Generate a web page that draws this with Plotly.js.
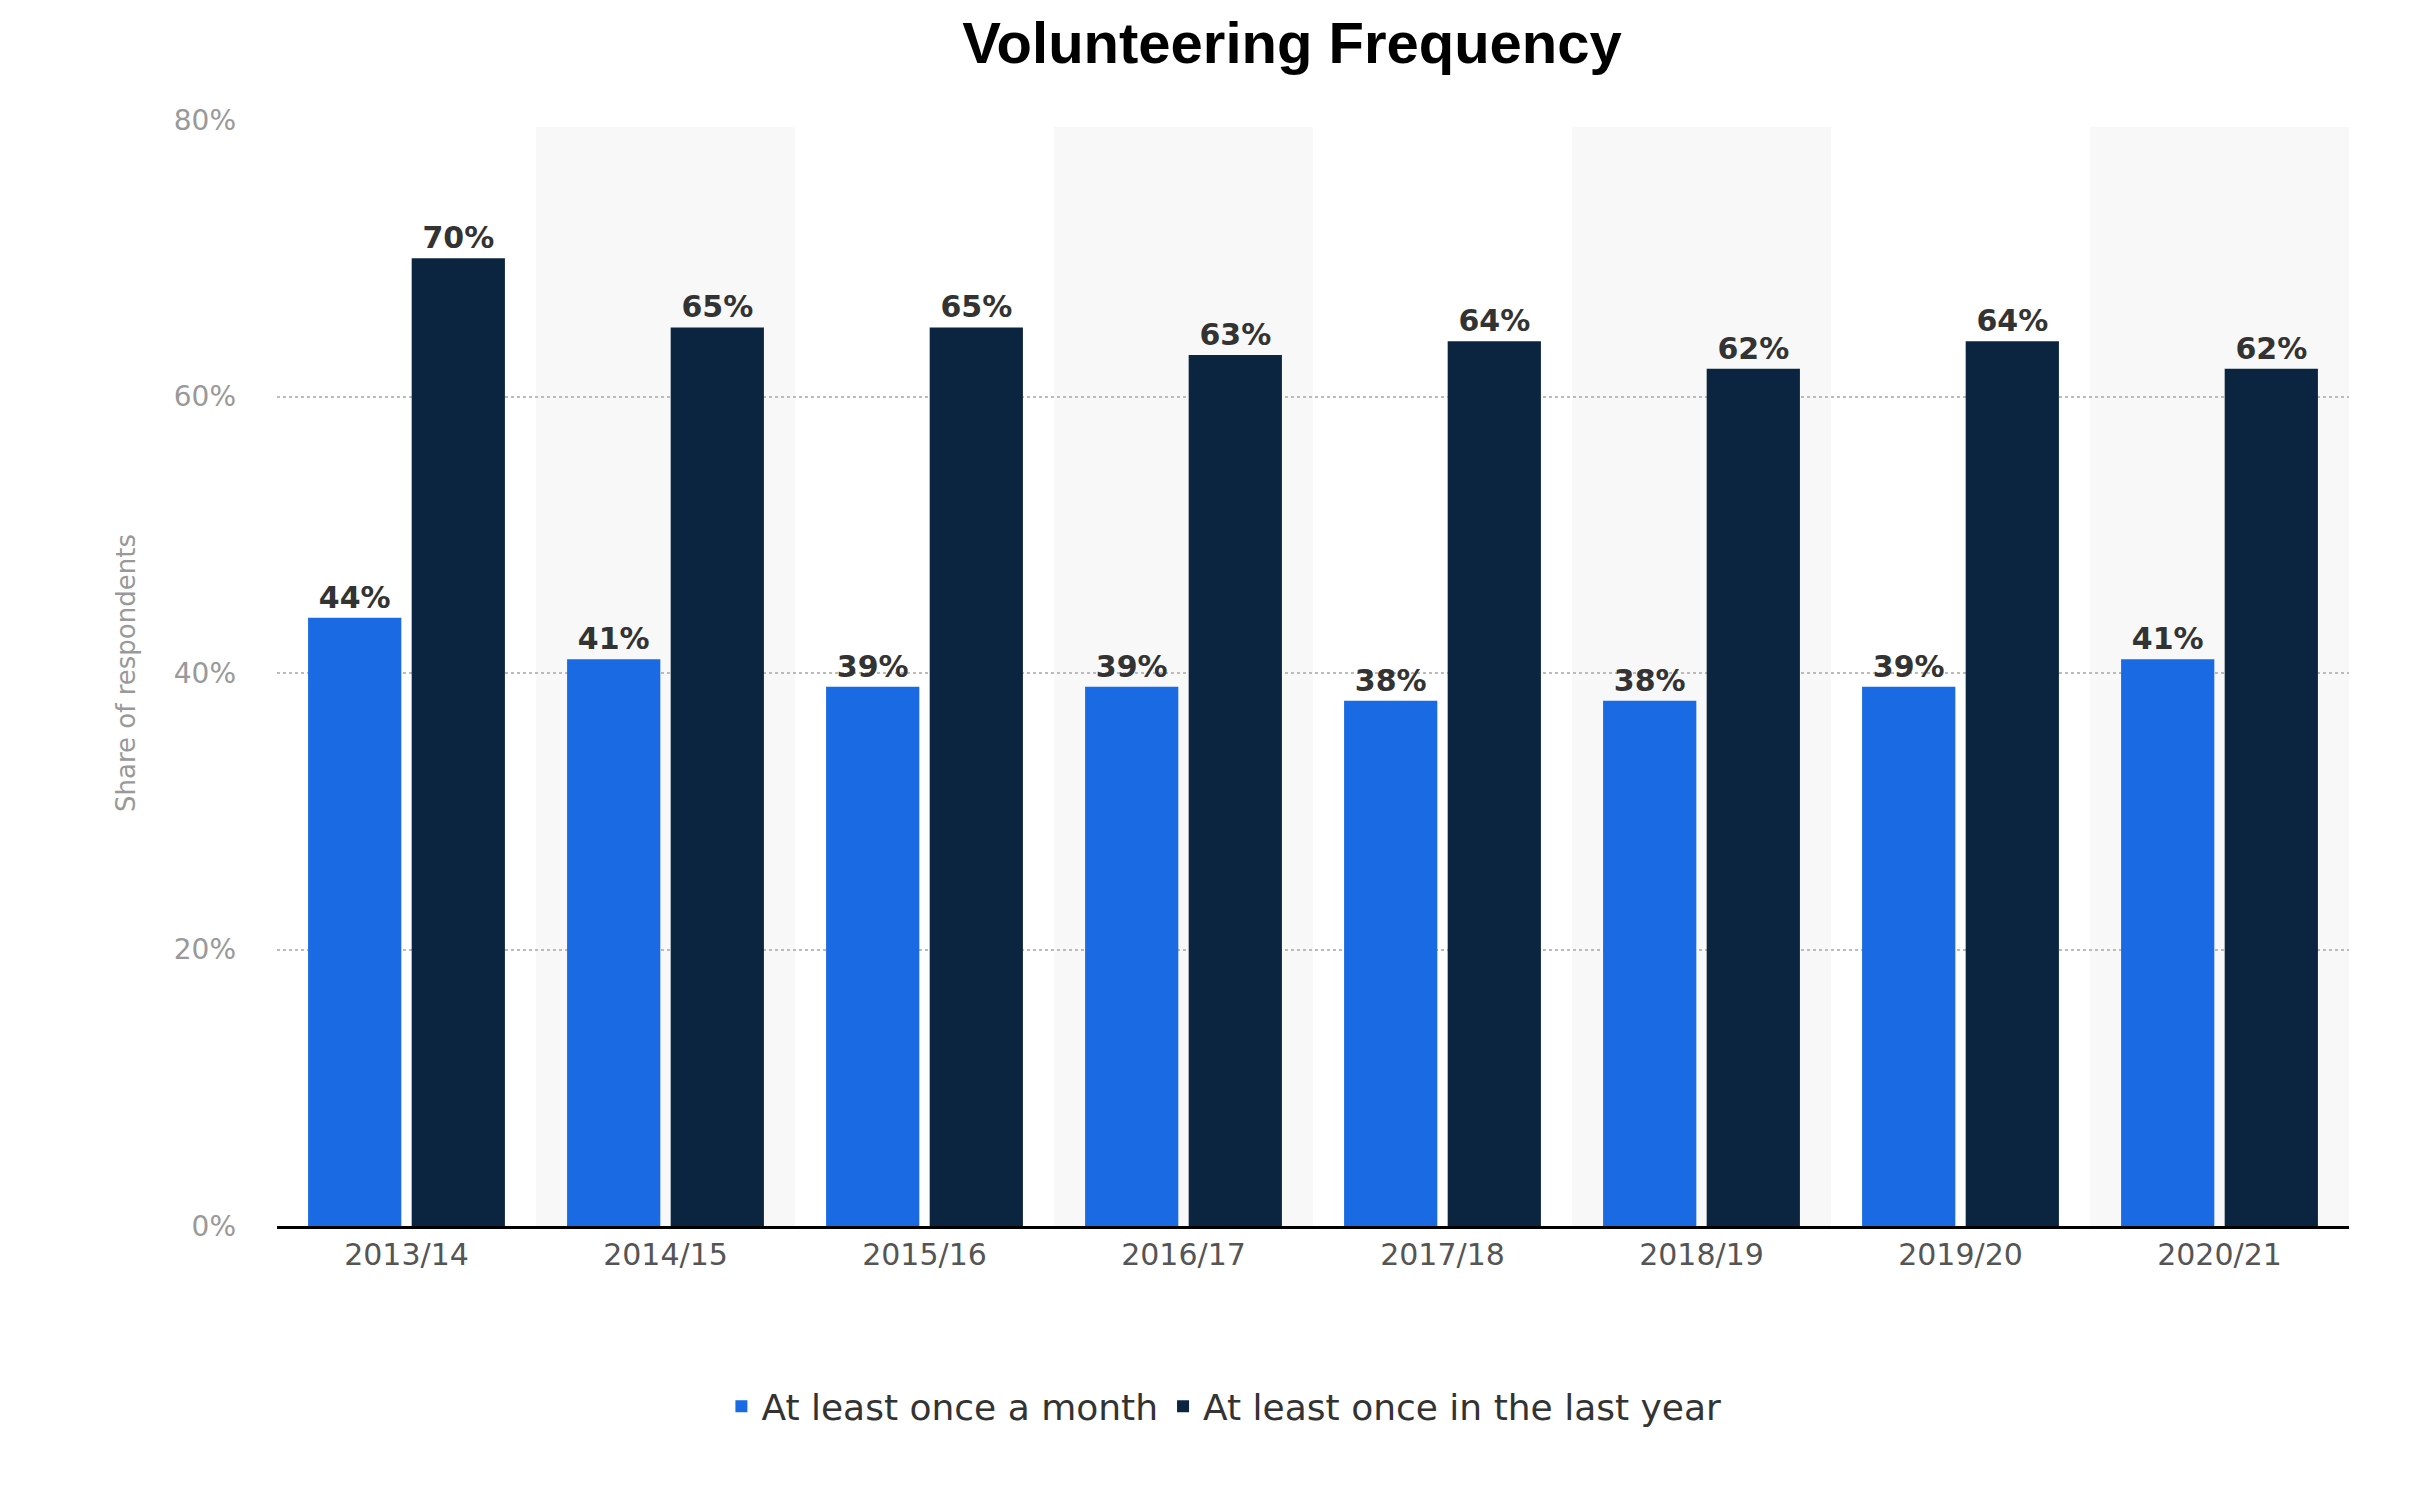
<!DOCTYPE html>
<html><head><meta charset="utf-8">
<script src="https://cdn.plot.ly/plotly-3.0.1.min.js"></script>
<style>html,body{margin:0;padding:0;background:#fff}</style>
</head><body><div id="c" style="width:2415px;height:1512px"></div>
<script>
const categories = ["2013/14","2014/15","2015/16","2016/17","2017/18","2018/19","2019/20","2020/21"];
const monthly = [44,41,39,39,38,38,39,41];
const yearly = [70,65,65,63,64,62,64,62];
const yTicks = [0,20,40,60,80];
const yTickLabels = ["0%","20%","40%","60%","80%"];

const shapes = [];
categories.forEach((c,i)=>{ if(i%2===1) shapes.push({type:'rect',xref:'x',yref:'y',x0:i-0.5,x1:i+0.5,y0:0,y1:79.5,fillcolor:'#f8f8f8',line:{width:0},layer:'below'}); });

const lblFont = {family:'DejaVu Sans, sans-serif',size:30,color:'#333'};
const traces = [
 {type:'bar',name:'At least once a month',x:categories.map((c,i)=>i),y:monthly,marker:{color:'#1a6ae3'},
  text:monthly.map(v=>'<b>'+v+'%</b>'),textposition:'outside',textfont:lblFont,cliponaxis:false},
 {type:'bar',name:'At least once in the last year',x:categories.map((c,i)=>i),y:yearly,marker:{color:'#0b2440'},
  text:yearly.map(v=>'<b>'+v+'%</b>'),textposition:'outside',textfont:lblFont,cliponaxis:false}
];
const layout = {
 width:2415,height:1512,paper_bgcolor:'#fff',plot_bgcolor:'rgba(0,0,0,0)',
 margin:{l:277,r:66,t:120,b:286},
 title:{text:'<b>Volunteering Frequency</b>',font:{family:'Liberation Sans, Arial, sans-serif',size:58,color:'#000'},x:0.535,xanchor:'center',y:0.985,yanchor:'top'},
 barmode:'group',bargap:0.2,bargroupgap:0.1,
 shapes:shapes,
 xaxis:{tickvals:categories.map((c,i)=>i),ticktext:categories,range:[-0.5,7.5],showline:true,linecolor:'#000',linewidth:3,
  tickfont:{family:'DejaVu Sans, sans-serif',size:30,color:'#555'},ticks:'',showgrid:false,zeroline:false},
 yaxis:{range:[0,80],tickvals:yTicks,ticktext:yTickLabels,showgrid:true,gridcolor:'#bbb',griddash:'dot',gridwidth:2,zeroline:false,
  tickfont:{family:'DejaVu Sans, sans-serif',size:28,color:'#999'},ticklabelstandoff:40,
  title:{text:'Share of respondents',font:{family:'DejaVu Sans, sans-serif',size:26,color:'#999'},standoff:30}},
 legend:{orientation:'h',x:0.457,xanchor:'center',y:-0.163,yanchor:'middle',font:{family:'DejaVu Sans, sans-serif',size:36,color:'#333'},itemsizing:'constant'},
 showlegend:true
};
Plotly.newPlot('c',traces,layout,{displayModeBar:false});
</script></body></html>
